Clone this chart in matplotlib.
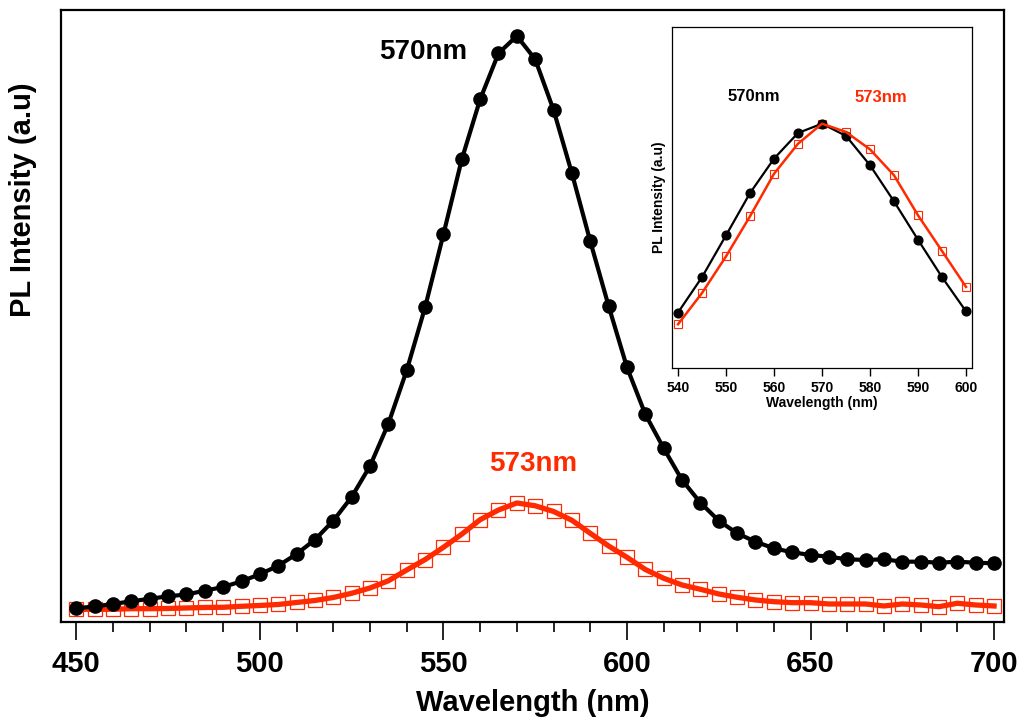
import matplotlib
matplotlib.use("Agg")
import matplotlib.pyplot as plt
from matplotlib.ticker import MultipleLocator

plt.rcParams['font.family'] = ['Liberation Sans', 'DejaVu Sans']
plt.rcParams['font.weight'] = 'bold'

red = '#ff2a00'

# main spectra, every 5 nm (arbitrary units)
wl = list(range(450, 705, 5))
pl_black = [13.7, 15.5, 18, 20.7, 23.2, 25.7, 27.5, 31.3, 35, 40.7,
            47.8, 56.2, 68, 82.3, 101.3, 125, 156, 198.3, 251.7, 314.7,
            387.7, 462.7, 522.7, 568.7, 586, 562.7, 512, 448.7, 380.7, 316,
            254.7, 207.7, 173.7, 142, 119.3, 101.3, 88.7, 80.3, 73.7, 69.7,
            67, 65.3, 62.7, 62, 62.7, 60.3, 60.3, 59.3, 60.3, 59.3, 58.7]
pl_red = [12.7, 12.7, 12.7, 13.3, 13.3, 13.5, 14, 14.5, 14.7, 15.7,
          16.5, 17.5, 19.5, 21.5, 24.5, 28.7, 34, 41.2, 52, 62.4,
          74.7, 87.8, 102.3, 112, 119, 116.2, 110.5, 101.7, 88.7, 76,
          64.7, 52.5, 43.7, 37, 32.7, 28, 24.7, 22, 20.3, 19.3,
          19.3, 18, 18, 18, 16, 18, 17, 15.3, 18.7, 17, 16]

# inset, normalised to the peak
wl_in = [540, 545, 550, 555, 560, 565, 570, 575, 580, 585, 590, 595, 600]
in_black = [0.227, 0.372, 0.543, 0.716, 0.857, 0.962, 1.0, 0.950, 0.830, 0.682, 0.525, 0.372, 0.232]
in_red = [0.179, 0.307, 0.457, 0.621, 0.795, 0.918, 1.0, 0.966, 0.895, 0.789, 0.625, 0.479, 0.332]

fig = plt.figure(figsize=(10.21, 7.25), dpi=100)
ax = fig.add_axes([0.0597, 0.1421, 0.9236, 0.8441])

ax.plot(wl, pl_red, 's', ms=10, mfc='none', mec=red, mew=0.9, zorder=2)
ax.plot(wl, pl_red, '-', color=red, lw=3.8, zorder=3)
ax.plot(wl, pl_black, '-o', color='black', lw=3, ms=9.5, zorder=4)

ax.set_xlim(445.8, 702.7)
ax.set_ylim(0, 612)
ax.set_yticks([])
ax.xaxis.set_major_locator(MultipleLocator(50))
ax.xaxis.set_minor_locator(MultipleLocator(10))
ax.tick_params(axis='x', which='major', direction='out', length=13, width=1.2, pad=7,
               labelsize=21)
ax.tick_params(axis='x', which='minor', direction='out', length=7, width=1.2)
for s in ax.spines.values():
    s.set_linewidth(1.6)
for lbl in ax.get_xticklabels():
    lbl.set_fontweight('bold')

ax.set_xlabel('Wavelength (nm)', fontsize=21, fontweight='bold')
ax.xaxis.set_label_coords(0.5, -0.11)
ax.set_ylabel('PL Intensity (a.u)', fontsize=21, fontweight='bold')
ax.yaxis.set_label_coords(-0.025, 0.69)

ax.text(544.5, 570, '570nm', fontsize=20, fontweight='bold', color='black', ha='center', va='center')
ax.text(574.4, 158, '573nm', fontsize=20, fontweight='bold', color=red, ha='center', va='center')

# inset
ins = fig.add_axes([0.6582, 0.4924, 0.2938, 0.4703])
ins.plot(wl_in, in_black, '-o', color='black', lw=1.6, ms=6.3, zorder=3)
ins.plot(wl_in, in_red, 's', ms=5.5, mfc='none', mec=red, mew=0.8, zorder=2)
ins.plot(wl_in, in_red, '-', color=red, lw=1.8, zorder=4)
ins.set_xlim(538.75, 601.25)
ins.set_ylim(0, 1.3956)
ins.set_yticks([])
ins.set_xticks(list(range(540, 601, 10)))
ins.tick_params(axis='x', direction='out', length=6, width=1, pad=3, labelsize=10)
for lbl in ins.get_xticklabels():
    lbl.set_fontweight('bold')
for s in ins.spines.values():
    s.set_linewidth(0.9)
ins.set_xlabel('Wavelength (nm)', fontsize=10, fontweight='bold', labelpad=1)
ins.set_ylabel('PL Intensity (a.u)', fontsize=10, fontweight='bold', labelpad=4)
ins.text(555.8, 1.112, '570nm', fontsize=12, fontweight='bold', color='black', ha='center', va='center')
ins.text(582.2, 1.108, '573nm', fontsize=12, fontweight='bold', color=red, ha='center', va='center')

fig.savefig('out.png', dpi=100)
